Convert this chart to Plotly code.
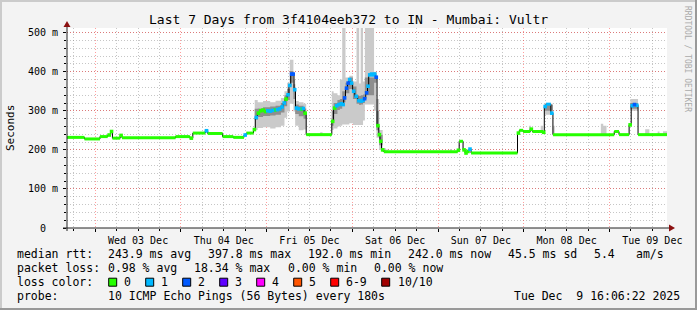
import plotly.graph_objects as go
from datetime import datetime

YEAR = "2025-"
T_START = "2025-12-02 16:06:22"
T_END = "2025-12-09 16:06:22"

# ---------------- data (median RTT in ms, loss class per sample) ----------------
med_t = [
    "12-02 16:06", "12-02 21:00", "12-03 01:20", "12-03 03:30", "12-03 04:20", "12-03 04:50",
    "12-03 07:00", "12-03 07:30", "12-03 22:30",
    "12-04 02:30", "12-04 03:20", "12-04 06:50", "12-04 07:30", "12-04 11:40", "12-04 14:40",
    "12-04 17:40", "12-04 18:20", "12-04 20:20",
    "12-04 20:50", "12-04 21:25", "12-04 22:00", "12-04 22:40", "12-04 23:20",
    "12-05 00:00", "12-05 00:40", "12-05 01:20", "12-05 02:00", "12-05 02:40",
    "12-05 03:20", "12-05 04:00", "12-05 04:40", "12-05 05:10", "12-05 05:45",
    "12-05 06:15", "12-05 06:45", "12-05 07:15", "12-05 07:40", "12-05 08:05",
    "12-05 08:40", "12-05 09:20", "12-05 10:00", "12-05 10:30", "12-05 11:05",
    "12-05 18:15", "12-05 18:45", "12-05 19:20", "12-05 19:55", "12-05 20:35",
    "12-05 21:15", "12-05 21:35", "12-05 22:05", "12-05 22:40", "12-05 23:00",
    "12-05 23:30", "12-06 00:05", "12-06 00:40", "12-06 01:30", "12-06 02:10",
    "12-06 02:50", "12-06 03:10", "12-06 03:45", "12-06 04:15", "12-06 04:35",
    "12-06 05:10", "12-06 05:40", "12-06 06:00", "12-06 06:30", "12-06 06:55",
    "12-06 07:25", "12-06 07:45", "12-06 08:10", "12-06 08:50",
    "12-07 05:30", "12-07 05:55", "12-07 07:00", "12-07 07:35", "12-07 08:05",
    "12-07 08:40", "12-07 09:15", "12-07 22:15", "12-07 22:45", "12-07 23:50",
    "12-08 01:50", "12-08 02:25", "12-08 05:25", "12-08 05:45", "12-08 06:15",
    "12-08 07:35", "12-08 08:10", "12-09 01:20", "12-09 02:40", "12-09 05:30",
    "12-09 06:05", "12-09 06:40", "12-09 07:20", "12-09 08:00",
]
med_ms = [
    232, 228, 234, 238, 247, 230,
    237, 231, 234,
    230, 243, 249, 242, 234, 232,
    238, 243, 252,
    283, 294, 300, 302, 298,
    300, 299, 301, 302, 303,
    305, 310, 320, 330, 341,
    365, 394, 394, 354, 307,
    305, 304, 306, 294, 239,
    273, 307, 313, 316, 318,
    316, 333, 358, 371, 380,
    371, 350, 337, 326, 325,
    327, 331, 346, 363, 392,
    394, 392, 394, 386, 262,
    239, 222, 200, 195,
    199, 222, 200, 192, 196,
    202, 192, 243, 250, 247,
    253, 247, 245, 311, 317,
    294, 239, 247, 239, 264,
    313, 316, 314, 239,
]
med_loss = [
    0, 0, 0, 0, 0, 0,
    0, 0, 0,
    0, 0, 1, 0, 0, 0,
    1, 0, 0,
    1, 0, 0, 0, 0,
    1, 1, 1, 0, 1,
    1, 1, 1, 0, 1,
    1, 2, 2, 1, 1,
    1, 0, 1, 0, 0,
    0, 0, 1, 1, 1,
    1, 2, 2, 2, 1,
    1, 1, 1, 1, 1,
    1, 2, 2, 1, 1,
    1, 1, 1, 2, 0,
    0, 0, 0, 0,
    0, 0, 0, 0, 0,
    1, 0, 0, 0, 0,
    0, 0, 0, 1, 1,
    1, 0, 0, 0, 0,
    1, 2, 1, 0,
]

# ---------------- smoke (spread of the pings, ms) ----------------
smoke_t = [
    "12-02 16:06", "12-04 06:40", "12-04 07:40", "12-04 20:40", "12-04 21:30", "12-04 23:00",
    "12-05 01:00", "12-05 02:30", "12-05 04:00", "12-05 05:00", "12-05 05:45", "12-05 06:30",
    "12-05 07:30", "12-05 08:00", "12-05 09:00", "12-05 10:20", "12-05 11:05", "12-05 15:00",
    "12-05 15:40", "12-05 18:15", "12-05 18:45", "12-05 19:50", "12-05 20:30", "12-05 21:10",
    "12-05 22:05", "12-05 23:10", "12-06 00:10", "12-06 01:10", "12-06 01:55", "12-06 02:20",
    "12-06 03:00", "12-06 03:30", "12-06 06:05", "12-06 06:45", "12-06 07:30", "12-06 08:30",
    "12-06 09:20", "12-06 10:00", "12-07 03:20", "12-07 03:50", "12-08 01:30", "12-08 02:00",
    "12-08 04:45", "12-08 05:25", "12-08 05:45", "12-08 08:10", "12-08 08:40", "12-08 21:35",
    "12-08 22:15", "12-08 23:10", "12-09 05:50", "12-09 08:00", "12-09 10:00", "12-09 11:10",
    "12-09 13:30", "12-09 14:00", "12-09 15:00",
]
smoke_lo = [
    232, 243, 242, 251, 256, 258,
    255, 258, 262, 282, 298, 318,
    298, 262, 250, 252, 239, 239,
    239, 251, 255, 260, 262, 265,
    265, 268, 264, 264, 264, 264,
    275, 316, 300, 231, 200, 195,
    195, 195, 195, 195, 247, 247,
    247, 245, 290, 239, 239, 239,
    239, 239, 300, 239, 239, 239,
    239, 239, 239,
]
smoke_hi = [
    232, 252, 242, 328, 322, 325,
    322, 326, 333, 350, 372, 431,
    380, 325, 322, 318, 239, 245,
    239, 350, 345, 340, 380, 520,
    385, 390, 375, 520, 370, 520,
    375, 520, 400, 330, 251, 205,
    201, 195, 202, 195, 262, 247,
    262, 245, 318, 262, 239, 267,
    262, 239, 330, 239, 253, 239,
    247, 239, 248,
]
core_lo = [
    232, 243, 242, 277, 284, 287,
    288, 290, 296, 312, 328, 372,
    330, 292, 286, 280, 239, 239,
    239, 262, 292, 302, 305, 322,
    345, 356, 330, 318, 315, 316,
    320, 340, 372, 250, 212, 195,
    195, 195, 195, 195, 247, 247,
    247, 245, 300, 239, 239, 239,
    239, 239, 305, 239, 239, 239,
    239, 239, 239,
]
core_hi = [
    232, 243, 242, 305, 306, 309,
    311, 313, 320, 340, 356, 402,
    368, 316, 313, 306, 239, 239,
    239, 300, 320, 328, 330, 350,
    372, 385, 362, 340, 338, 340,
    342, 385, 398, 300, 238, 199,
    195, 195, 195, 195, 247, 247,
    247, 245, 315, 239, 239, 239,
    239, 239, 320, 239, 239, 239,
    239, 239, 239,
]

# ---------------- axis ticks & legend text ----------------
ytick_vals = [0, 100, 200, 300, 400, 500]
ytick_text = ["0  ", "100 m", "200 m", "300 m", "400 m", "500 m"]

loss_colors = ["#26ff00", "#00b8ff", "#0059ff", "#5e00ff", "#ff00fe", "#ff5500", "#ff0000", "#a10000"]
loss_labels = ["0", "1", "2", "3", "4", "5", "6-9", "10/10"]

title_text = "Last 7 Days from 3f4104eeb372 to IN - Mumbai: Vultr"
rtt_stats = ["243.9 ms avg", "397.8 ms max", "192.0 ms min", "242.0 ms now", "45.5 ms sd", "5.4", "am/s"]
loss_stats = ["0.98 % avg", "18.34 % max", "0.00 % min", "0.00 % now"]
probe_text = "10 ICMP Echo Pings (56 Bytes) every 180s"
stamp_text = "Tue Dec  9 16:06:22 2025"

# ---------------- layout geometry (pixels) ----------------
W, H = 697, 310
L, R, T, B = 67, 30, 28, 82
PW = W - L - R
PH = H - T - B
BOT = H - B


def px(x):
    return (x - L) / PW


def py(y):
    return (BOT - y) / PH


def nb(s):
    return s.replace(" ", "\u00a0")


MONO = "DejaVu Sans Mono"

fig = go.Figure()


def ext(a):
    return list(a) + [a[-1]]


st = [YEAR + s for s in smoke_t] + [T_END]
for lo, hi, col in [(smoke_lo, smoke_hi, "#cacaca"), (core_lo, core_hi, "#8e8e8e")]:
    fig.add_trace(go.Scatter(x=st, y=ext(lo), mode="lines", line=dict(width=0, shape="hv"),
                             hoverinfo="skip", showlegend=False))
    fig.add_trace(go.Scatter(x=st, y=ext(hi), mode="lines", line=dict(width=0, shape="hv"),
                             fill="tonexty", fillcolor=col, hoverinfo="skip", showlegend=False))

mt = [YEAR + s for s in med_t] + [T_END]
fig.add_trace(go.Scatter(x=mt, y=ext(med_ms), mode="lines",
                         line=dict(color="#000000", width=1, shape="hv"),
                         hoverinfo="skip", showlegend=False))

FMT = "%Y-%m-%d %H:%M"


def parse(s):
    return datetime.strptime(s[:16], FMT)


for k, col in enumerate(loss_colors):
    xs, ys, mx, my = [], [], [], []
    for i in range(len(med_ms)):
        if med_loss[i] != k:
            continue
        a, b = parse(mt[i]), parse(mt[i + 1])
        if (b - a).total_seconds() > 3600:
            xs += [mt[i], mt[i + 1], None]
            ys += [med_ms[i], med_ms[i], None]
        else:
            mx.append((a + (b - a) / 2).strftime(FMT))
            my.append(med_ms[i])
    if xs:
        fig.add_trace(go.Scatter(x=xs, y=ys, mode="lines", line=dict(color=col, width=3),
                                 connectgaps=False, hoverinfo="skip", showlegend=False))
    if mx:
        fig.add_trace(go.Scatter(x=mx, y=my, mode="markers",
                                 marker=dict(color=col, size=3.6, symbol="square", line=dict(width=0)),
                                 hoverinfo="skip", showlegend=False))

MAJ = "rgba(255,0,0,0.38)"
MIN = "rgba(128,128,128,0.45)"
DASH = "1px,2px"

fig.update_layout(
    width=W, height=H,
    margin=dict(l=L, r=R, t=T, b=B, pad=0),
    paper_bgcolor="#f3f3f3", plot_bgcolor="#ffffff",
    showlegend=False,
    font=dict(family=MONO, size=10, color="#000000"),
    xaxis=dict(
        type="date", range=[T_START, T_END],
        tick0="2025-12-03", dtick=86400000, ticklabelmode="period", tickformat="%a %d %b",
        showgrid=True, gridcolor=MAJ, griddash=DASH, gridwidth=1,
        ticks="outside", ticklen=3, tickcolor="#000000", tickwidth=1,
        showline=False, zeroline=False, fixedrange=True,
        tickfont=dict(family=MONO, size=10, color="#000000"),
        minor=dict(tick0="2025-12-03", dtick=21600000, showgrid=True, gridcolor=MIN,
                   griddash=DASH, gridwidth=1, ticks="outside", ticklen=2, tickcolor="#000000"),
    ),
    yaxis=dict(
        range=[0, 512], tickmode="array", tickvals=ytick_vals, ticktext=[nb(s) for s in ytick_text],
        showgrid=True, gridcolor=MAJ, griddash=DASH, gridwidth=1,
        ticks="outside", ticklen=3, tickcolor="#000000", tickwidth=1,
        showline=False, zeroline=False, fixedrange=True, ticklabelstandoff=3,
        tickfont=dict(family=MONO, size=10, color="#000000"),
        minor=dict(tick0=0, dtick=20, showgrid=True, gridcolor=MIN, griddash=DASH,
                   gridwidth=1, ticks="outside", ticklen=2, tickcolor="#000000"),
    ),
)

shapes = []
# frame
shapes.append(dict(type="rect", xref="paper", yref="paper", x0=px(0), x1=px(W), y0=py(0), y1=py(2),
                   fillcolor="#cbcbcb", line=dict(width=0), layer="above"))
shapes.append(dict(type="rect", xref="paper", yref="paper", x0=px(0), x1=px(2), y0=py(0), y1=py(H),
                   fillcolor="#cbcbcb", line=dict(width=0), layer="above"))
shapes.append(dict(type="rect", xref="paper", yref="paper", x0=px(0), x1=px(W), y0=py(H - 2), y1=py(H),
                   fillcolor="#999999", line=dict(width=0), layer="above"))
shapes.append(dict(type="rect", xref="paper", yref="paper", x0=px(W - 2), x1=px(W), y0=py(0), y1=py(H),
                   fillcolor="#999999", line=dict(width=0), layer="above"))
# axis lines
shapes.append(dict(type="line", xref="paper", yref="paper", x0=px(63), x1=px(670), y0=py(BOT), y1=py(BOT),
                   line=dict(color="#222222", width=1), layer="above"))
shapes.append(dict(type="line", xref="paper", yref="paper", x0=px(L), x1=px(L), y0=py(231), y1=py(25),
                   line=dict(color="#222222", width=1), layer="above"))
# arrows
ax_path = "M {:.5f},{:.5f} L {:.5f},{:.5f} L {:.5f},{:.5f} Z".format(
    px(669), py(BOT - 3.5), px(675), py(BOT), px(669), py(BOT + 3.5))
shapes.append(dict(type="path", xref="paper", yref="paper", path=ax_path,
                   fillcolor="#8b1010", line=dict(width=0), layer="above"))
ay_path = "M {:.5f},{:.5f} L {:.5f},{:.5f} L {:.5f},{:.5f} Z".format(
    px(L - 3.5), py(27), px(L), py(21), px(L + 3.5), py(27))
shapes.append(dict(type="path", xref="paper", yref="paper", path=ay_path,
                   fillcolor="#8b1010", line=dict(width=0), layer="above"))

annotations = []


def text(x, y, s, size, xanchor="left", color="#000000", angle=0):
    annotations.append(dict(xref="paper", yref="paper", x=px(x), y=py(y), text=nb(s),
                            showarrow=False, xanchor=xanchor, yanchor="middle",
                            font=dict(family=MONO, size=size, color=color),
                            borderpad=0, textangle=angle))


text(348.5, 19.5, title_text, 13, xanchor="center")
text(10, 128, "Seconds", 11, xanchor="center", angle=-90)
text(688, 59, "RRDTOOL / TOBI OETIKER", 8, xanchor="center", color="#aaaaaa", angle=90)

LS = 11.5
rows_y = [253.7, 267.7, 282.0, 295.5]
text(16, rows_y[0], "median rtt:", LS)
for s, x in zip(rtt_stats, [107.3, 207.1, 306.9, 406.8, 506.6, 592.5, 635.0]):
    text(x, rows_y[0], s, LS)
text(16, rows_y[1], "packet loss:", LS)
for s, x in zip(loss_stats, [107.3, 193.3, 286.5, 372.5]):
    text(x, rows_y[1], s, LS)
text(16, rows_y[2], "loss color:", LS)
box_x = [108.7, 145.7, 182.7, 219.7, 256.7, 293.7, 330.7, 381.7]
lab_x = [123.3, 160.0, 197.3, 234.0, 271.0, 308.0, 345.0, 396.7]
for col, lab, bx, lx in zip(loss_colors, loss_labels, box_x, lab_x):
    shapes.append(dict(type="rect", xref="paper", yref="paper", x0=px(bx), x1=px(bx + 8),
                       y0=py(286.2), y1=py(278.2), fillcolor=col,
                       line=dict(color="#000000", width=1), layer="above"))
    text(lx, rows_y[2], lab, LS)
text(16, rows_y[3], "probe:", LS)
text(107.3, rows_y[3], probe_text, LS)
text(680.5, rows_y[3], stamp_text, LS, xanchor="right")

fig.update_layout(shapes=shapes, annotations=annotations)

fig.write_html("out.html")
